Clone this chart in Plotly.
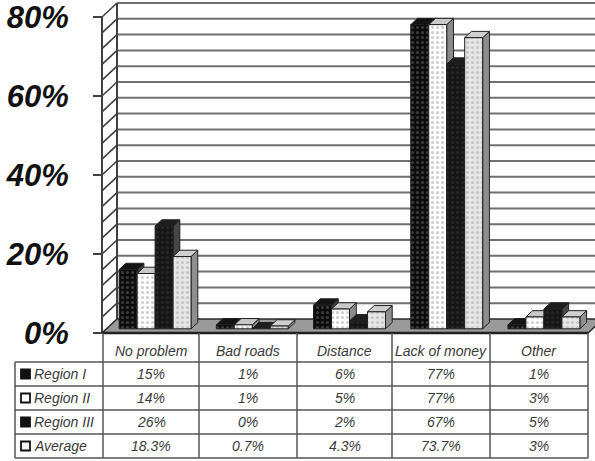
import plotly.graph_objects as go

# ---- data -------------------------------------------------------------
categories = ["No problem", "Bad roads", "Distance", "Lack of money", "Other"]
series_names = ["Region I", "Region II", "Region III", "Average"]
region_1 = [15, 1, 6, 77, 1]
region_2 = [14, 1, 5, 77, 3]
region_3 = [26, 0, 2, 67, 5]
average = [18.3, 0.7, 4.3, 73.7, 3]
table_text = [
    ["15%", "1%", "6%", "77%", "1%"],
    ["14%", "1%", "5%", "77%", "3%"],
    ["26%", "0%", "2%", "67%", "5%"],
    ["18.3%", "0.7%", "4.3%", "73.7%", "3%"],
]
y_ticks = [0, 20, 40, 60, 80]

series_values = [region_1, region_2, region_3, average]

# ---- canvas geometry --------------------------------------------------
W, H = 595, 461
X_PX0, X_UNIT = 102.0, 97.2          # pixel of x=0, pixels per category
Y_PX0, Y_UNIT = 333.0, 3.95          # pixel of 0 %, pixels per percent
x_lo = -X_PX0 / X_UNIT
x_hi = x_lo + W / X_UNIT
y_hi = Y_PX0 / Y_UNIT
y_lo = y_hi - H / Y_UNIT

DX = 15.0 / X_UNIT                   # depth offset of the back wall
DY = 14.0 / Y_UNIT
Y_TOP = 80
GRID_STEP = 4

GROUP_W = 0.74
BAR_W = GROUP_W / 4
FRONT_F = 0.30                       # depth position of the bar fronts
DEPTH_F = 0.45                       # depth of each bar

# face styles per series: (front bg, front dots, top, side)
styles = [
    ("#0c0c0c", "#3a3a3a", "#141414", "#3a3a3a"),
    ("#fdfdfd", "#cfcfcf", "#c8c8c8", "#8a8a8a"),
    ("#161616", "#262626", "#1e1e1e", "#454545"),
    ("#e6e6e6", "#c6c6c6", "#cfcfcf", "#8e8e8e"),
]
EDGE = "#202020"


def px(x):
    return x / W


def py(y):
    return 1 - y / H


fig = go.Figure()
shapes = []
annotations = []

# ---- walls and floor --------------------------------------------------
grid_color = "#707070"
n_cat = len(categories)
for k in range(1, Y_TOP // GRID_STEP + 1):
    v = k * GRID_STEP
    # back wall gridline
    shapes.append(dict(type="line", xref="x", yref="y", layer="below",
                       x0=DX, x1=n_cat + DX, y0=v + DY, y1=v + DY,
                       line=dict(color=grid_color, width=2)))
    # side wall diagonal
    shapes.append(dict(type="line", xref="x", yref="y", layer="below",
                       x0=0, x1=DX, y0=v, y1=v + DY,
                       line=dict(color="#404040", width=1.6)))
# wall edges
shapes.append(dict(type="line", xref="x", yref="y", layer="below",
                   x0=DX, x1=DX, y0=DY, y1=Y_TOP + DY,
                   line=dict(color="#404040", width=2)))
shapes.append(dict(type="line", xref="x", yref="y", layer="below",
                   x0=0, x1=0, y0=0, y1=Y_TOP,
                   line=dict(color="#404040", width=2)))
# floor
shapes.append(dict(type="path", xref="x", yref="y", layer="below",
                   path=f"M 0 0 L {n_cat} 0 L {n_cat + DX} {DY} L {DX} {DY} Z",
                   fillcolor="#9a9a9a", line=dict(color="#2a2a2a", width=1.5)))
shapes.append(dict(type="line", xref="x", yref="y", layer="below",
                   x0=0, x1=n_cat, y0=0, y1=0,
                   line=dict(color="#202020", width=2.5)))


# ---- 3-D columns ------------------------------------------------------
def poly(xs, ys, fill, pattern=None):
    kw = dict(x=xs + [xs[0]], y=ys + [ys[0]], mode="lines", fill="toself",
              fillcolor=fill, line=dict(color=EDGE, width=1),
              hoverinfo="skip", showlegend=False)
    if pattern:
        kw["fillpattern"] = pattern
    fig.add_trace(go.Scatter(**kw))


ddx, ddy = DEPTH_F * DX, DEPTH_F * DY
for i in range(n_cat):
    for j, vals in enumerate(series_values):
        v = vals[i]
        bg, dots, top_c, side_c = styles[j]
        x0 = i + 0.5 - GROUP_W / 2 + j * BAR_W + FRONT_F * DX
        x1 = x0 + BAR_W
        yb = FRONT_F * DY
        yt = v + yb
        # right side face
        poly([x1, x1 + ddx, x1 + ddx, x1], [yb, yb + ddy, yt + ddy, yt], side_c)
        # top face
        poly([x0, x1, x1 + ddx, x0 + ddx], [yt, yt, yt + ddy, yt + ddy], top_c)
        # front face
        if v > 0:
            poly([x0, x1, x1, x0], [yb, yb, yt, yt], bg,
                 pattern=dict(shape=".", fgcolor=dots, bgcolor=bg,
                              size=5, solidity=0.3, fillmode="replace"))

# ---- data table -------------------------------------------------------
tbl_color = "#555555"
col_edges = [103, 199, 297, 392, 490, 588]
row_edges = [333, 362, 386, 410, 434, 458]
left_edge = 15
for ye in row_edges[1:]:
    shapes.append(dict(type="line", xref="paper", yref="paper",
                       x0=px(left_edge), x1=px(col_edges[-1]), y0=py(ye), y1=py(ye),
                       line=dict(color=tbl_color, width=1.5)))
for xe in col_edges:
    shapes.append(dict(type="line", xref="paper", yref="paper",
                       x0=px(xe), x1=px(xe), y0=py(row_edges[0]), y1=py(row_edges[-1]),
                       line=dict(color=tbl_color, width=1.5)))
shapes.append(dict(type="line", xref="paper", yref="paper",
                   x0=px(left_edge), x1=px(left_edge), y0=py(row_edges[1]), y1=py(row_edges[-1]),
                   line=dict(color=tbl_color, width=1.5)))

tfont = dict(family="Liberation Sans, Arial, sans-serif", size=14, color="#3a3a3a", style="italic")
for c, name in enumerate(categories):
    cx = (col_edges[c] + col_edges[c + 1]) / 2
    annotations.append(dict(xref="paper", yref="paper", x=px(cx), y=py(351),
                            text=name, showarrow=False, font=tfont,
                            xanchor="center", yanchor="middle"))
key_fill = ["#111111", "#ffffff", "#111111", "#f2f2f2"]
for r, name in enumerate(series_names):
    cy = (row_edges[r + 1] + row_edges[r + 2]) / 2
    shapes.append(dict(type="rect", xref="paper", yref="paper",
                       x0=px(21), x1=px(30), y0=py(cy - 4.5), y1=py(cy + 4.5),
                       fillcolor=key_fill[r], line=dict(color="#111111", width=1.8)))
    annotations.append(dict(xref="paper", yref="paper", x=px(32), y=py(cy),
                            text=name, showarrow=False, font=tfont,
                            xanchor="left", yanchor="middle"))
    for c in range(n_cat):
        cx = (col_edges[c] + col_edges[c + 1]) / 2
        annotations.append(dict(xref="paper", yref="paper", x=px(cx), y=py(cy),
                                text=table_text[r][c], showarrow=False, font=tfont,
                                xanchor="center", yanchor="middle"))

fig.update_layout(
    width=W, height=H,
    margin=dict(l=0, r=0, t=0, b=0),
    paper_bgcolor="white", plot_bgcolor="white",
    shapes=shapes, annotations=annotations,
    xaxis=dict(range=[x_lo, x_hi], visible=False, fixedrange=True),
    yaxis=dict(range=[y_lo, y_hi], anchor="free", position=X_PX0 / W,
               tickvals=y_ticks, ticktext=[f"{t}%" for t in y_ticks],
               ticks="outside", ticklen=9, tickwidth=1.5, tickcolor="#404040",
               showgrid=False, zeroline=False, showline=False,
               ticklabelstandoff=18, ticklabeloverflow="allow",
               tickfont=dict(family="Liberation Sans, Arial, sans-serif", size=31,
                             color="#111111", weight="bold", style="italic")),
)

fig.write_html("out.html")
